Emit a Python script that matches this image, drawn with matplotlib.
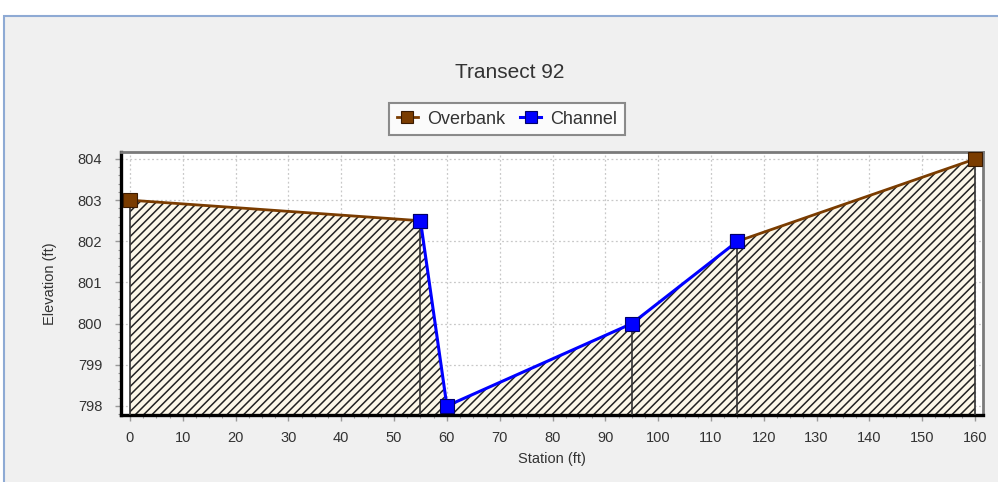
import matplotlib
matplotlib.use("Agg")
import matplotlib.pyplot as plt
from matplotlib.patches import Rectangle
from matplotlib.ticker import MultipleLocator

plt.rcParams['font.family'] = ['Liberation Sans', 'DejaVu Sans']
plt.rcParams['hatch.linewidth'] = 1.1
plt.rcParams['hatch.color'] = '#222222'

title = "Transect 92"
x_label = "Station (ft)"
y_label = "Elevation (ft)"

# Cross-section survey points
overbank_left_station = [0, 55]
overbank_left_elev = [803.0, 802.5]
channel_station = [55, 60, 95, 115]
channel_elev = [802.5, 798.0, 800.0, 802.0]
overbank_right_station = [115, 160]
overbank_right_elev = [802.0, 804.0]

# Ground profile (all points) and vertical station markers
profile_station = [0, 55, 60, 95, 115, 160]
profile_elev = [803.0, 802.5, 798.0, 800.0, 802.0, 804.0]
drop_station = [0, 55, 95, 115, 160]
drop_elev = [803.0, 802.5, 800.0, 802.0, 804.0]

x_ticks = list(range(0, 161, 10))
y_ticks = [798, 799, 800, 801, 802, 803, 804]

overbank_color = '#7a3c00'
channel_color = '#0000ff'
bg = '#f0f0f0'

fig = plt.figure(figsize=(9.98, 4.82), dpi=100)
fig.patch.set_facecolor('white')
# panel background with thin blue frame
panel = Rectangle((4 / 998, -0.05), 1.2, 1 - 16 / 482 + 0.05,
                  transform=fig.transFigure, facecolor=bg,
                  edgecolor='#8eaad4', linewidth=1.5, zorder=-10)
fig.add_artist(panel)

ax = fig.add_axes([121 / 998, 1 - 415 / 482, (983 - 121) / 998, (415 - 152) / 482])
ax.set_zorder(5)
ax.set_facecolor('white')
ax.set_xlim(-1.7, 161.5)
ax.set_ylim(797.78, 804.17)

ax.grid(True, which='major', color='#c8c8c8', linestyle=(0, (1.5, 2)), linewidth=0.9)
ax.set_axisbelow(True)

bottom = 797.0
ax.fill_between(profile_station, profile_elev, bottom, facecolor='#fcf7e8',
                edgecolor='#222222', hatch='////', linewidth=0, zorder=2)
ax.vlines(drop_station, bottom, drop_elev, colors='#333333', linewidth=1.2, zorder=3)

ax.plot(overbank_left_station, overbank_left_elev, color=overbank_color, lw=2,
        marker='s', ms=10, mfc=overbank_color, mec='#3a1a00', mew=0.8, zorder=4,
        label='Overbank', clip_on=False)
ax.plot(overbank_right_station, overbank_right_elev, color=overbank_color, lw=2,
        marker='s', ms=10, mfc=overbank_color, mec='#3a1a00', mew=0.8, zorder=4,
        clip_on=False)
ax.plot(channel_station, channel_elev, color=channel_color, lw=2.2,
        marker='s', ms=10, mfc=channel_color, mec='#00006a', mew=0.8, zorder=5,
        label='Channel', clip_on=False)

ax.set_xticks(x_ticks)
ax.set_yticks(y_ticks)
ax.xaxis.set_minor_locator(MultipleLocator(2.5))
ax.yaxis.set_minor_locator(MultipleLocator(0.2))
ax.tick_params(which='major', length=4.5, color='#999999', labelsize=10.5,
               labelcolor='#333333', width=1)
ax.tick_params(axis='x', which='major', pad=7)
ax.tick_params(axis='y', which='major', pad=9)
ax.tick_params(which='minor', length=2.5, color='#999999', width=0.8)

for side in ('left', 'bottom'):
    ax.spines[side].set_color('black')
    ax.spines[side].set_linewidth(2.4)
for side in ('top', 'right'):
    ax.spines[side].set_color('#7a7a7a')
    ax.spines[side].set_linewidth(2.0)

ax.set_xlabel(x_label, fontsize=10.5, color='#333333', labelpad=5)
ax.set_ylabel(y_label, fontsize=10.5, color='#333333', labelpad=15)

fig.text(0.511, 1 - 73 / 482, title, ha='center', va='center', fontsize=15, color='#333333')

leg = fig.legend(loc='center', bbox_to_anchor=(0.508, 1 - 119 / 482), ncol=2,
                 fontsize=13, frameon=True, fancybox=False, handlelength=1.2,
                 handletextpad=0.5, columnspacing=0.8, borderpad=0.4,
                 markerscale=0.8)
leg.get_frame().set_edgecolor('#707070')
leg.get_frame().set_linewidth(1.5)
leg.get_frame().set_facecolor('white')
for t in leg.get_texts():
    t.set_color('#333333')

fig.savefig('out.png', dpi=100)
